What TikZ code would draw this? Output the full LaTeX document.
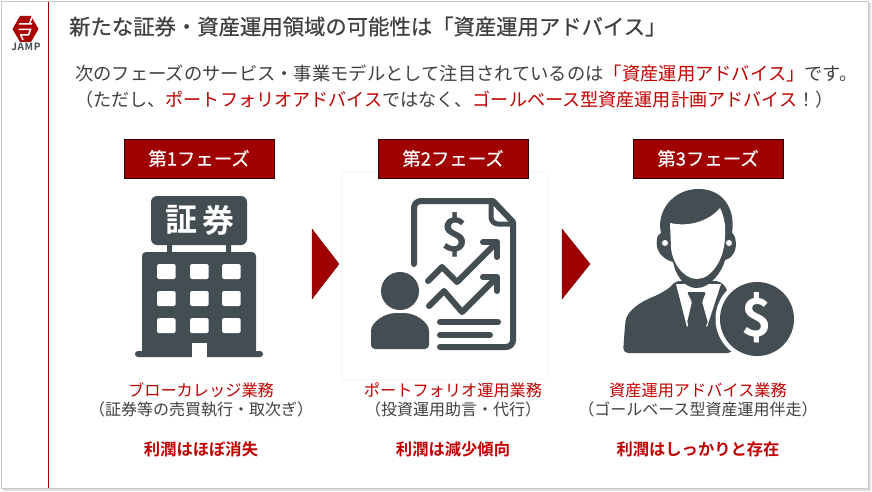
\documentclass[tikz,border=0pt]{standalone}
\usepackage{fontspec}
\setmainfont{Noto Sans CJK JP}
\newfontfamily\jpb{Noto Sans CJK JP Bold}
\newfontfamily\jpm[FakeBold=0.5]{Noto Sans CJK JP}
\newfontfamily\jpq[FakeBold=0.25]{Noto Sans CJK JP}
\definecolor{ink}{HTML}{434D52}
\definecolor{txt}{HTML}{404040}
\definecolor{crim}{HTML}{A00000}
\definecolor{redt}{HTML}{C00000}
\newcommand{\rd}[1]{\textcolor{redt}{#1}}
\newcommand{\fs}[1]{\fontsize{#1}{#1}\selectfont}
\tikzset{
 x=1pt,y=-1pt,
 phase/.style={draw=black!70!crim,fill=crim,text=white,minimum width=150,minimum height=39,inner sep=0,font=\fs{18.4}\jpq},
 arrowtri/.style={fill=crim,draw=crim!70!black,line width=.4},
 line1/.style={text=redt,font=\fs{16.2},inner sep=0},
 line2/.style={text=txt,font=\fs{16},inner sep=0},
 profit/.style={text=redt,font=\fs{16.3}\jpb,inner sep=0},
 titletext/.style={text=txt,font=\fs{21.35}\jpm,inner sep=0,anchor=west},
 bodytext/.style={text=txt,font=\fs{18.3},inner sep=0,anchor=west},
 iconline/.style={draw=ink,line width=6,line cap=round,line join=round},
 iconfill/.style={fill=ink,draw=none},
}
\begin{document}
\begin{tikzpicture}
\useasboundingbox (0,0) rectangle (872,492);
\fill[white] (0,0) rectangle (872,492);
\draw[black!22,line width=1] (1.5,1.5) rectangle (868.5,488.5);
\draw[black!12,line width=2] (870,3) -- (870,490) -- (3,490);
\draw[crim,line width=1] (48,2) -- (48,488);
% logo
\fill[crim!90!red] (12.5,29) -- (20,16) -- (31,16) -- (38.5,29) -- (31,42) -- (20,42) -- cycle;
\draw[white,line width=1.5] (19,24) -- (32,24) (18.5,29.5) -- (30.5,29.5) -- (28.5,35) -- (20,35) (32,17) -- (29.5,24) (21,35.5) -- (23,40);
\node[inner sep=0,text=ink] (jamp) at (26,46.5) {\fontsize{10}{10}\jpb J\kern.6pt A\kern.6pt M\kern.6pt P};
% header
\node[titletext] (title) at (69,26.5) {新たな証券・資産運用領域の可能性は「資産運用アドバイス」};
\node[bodytext] (l1) at (75,73) {次のフェーズのサービス・事業モデルとして注目されているのは\rd{「資産運用アドバイス」}です。};
\node[bodytext,font=\fs{18.1}] (l2) at (75,100) {（ただし、\rd{ポートフォリオアドバイス}ではなく、\rd{ゴールベース型資産運用計画アドバイス}！）};
% arrows
\draw[arrowtri] (312,229) -- (339,264) -- (312,299) -- cycle;
\draw[arrowtri] (562,229) -- (590,264) -- (562,299) -- cycle;
% icon 1
\fill[iconfill,rounded corners=6] (151,196) rectangle (247,245);
\fill[iconfill] (167,244) rectangle (172,254) (226,244) rectangle (231,254);
\fill[iconfill,rounded corners=4] (142,252) rectangle (256,354);
\fill[iconfill,rounded corners=3] (135,351) rectangle (263,357);
\node[text=white,inner sep=0,font=\fs{32}\jpb] (sho) at (181,220) {証};
\node[text=white,inner sep=0,font=\fs{32}\jpb] (ken) at (218,220) {券};
\foreach \xx in {157,190,222} \foreach \yy in {264,291,318}{
  \fill[white,rounded corners=1.5] (\xx,\yy) rectangle ++(18.5,15);}
\fill[white] (192,343) rectangle (207,358);
% icon 2
\fill[white] (341,172) rectangle (547,379);
\draw[black!4,line width=.5] (341,172) rectangle (547,379);
\draw[iconline] (414,264) -- (414,208) arc[start angle=180,end angle=270,radius=7] -- (493,201) -- (513,222) -- (513,340) arc[start angle=0,end angle=90,radius=7] -- (440,347);
\draw[iconline,line width=5] (491,203) -- (491,217) .. controls (491,221) and (494,224) .. (498,224) -- (512,224);
\draw[iconline] (428,281) -- (442,267) -- (457,282) -- (495,244);
\draw[iconline] (483,242) -- (497,242) -- (497,257);
\draw[iconline] (429,306) -- (444,291) -- (462,312) -- (495,279);
\draw[iconline] (483,277) -- (497,277) -- (497,291);
\draw[iconline] (440,322) -- (498,322) (440,335) -- (490,335);
\node[text=ink,inner sep=0,font=\fs{46}\jpb] (dol2) at (455,235) {\$};
\fill[iconfill] (400,291) circle (19);
\fill[iconfill,rounded corners=4] (371,349) -- (371,335) .. controls (371,322) and (385,313) .. (400,313) .. controls (415,313) and (429,322) .. (429,335) -- (429,349) -- cycle;
% phases
\node[phase] (p1) at (199,158.5) {第1フェーズ};
\node[phase] (p2) at (453,158.5) {第2フェーズ};
\node[phase] (p3) at (708,158.5) {第3フェーズ};
% icon 3
\fill[iconfill,rounded corners=5] (623,353) -- (625,325) .. controls (627,312) and (638,304) .. (650,298) .. controls (660,294) and (670,288) .. (675,281) -- (720,281) -- (728,290) -- (733,353) -- cycle;
\fill[white] (676,284) -- (721,284) -- (707,327) -- (697,312) -- (687,327) -- cycle;
\fill[iconfill] (673,262) .. controls (662,259) and (655,250) .. (657,240) .. controls (657,236) and (659,234) .. (661,233) .. controls (656,212) and (672,190) .. (697,189) .. controls (722,188) and (736,208) .. (732,233) .. controls (737,236) and (737,250) .. (733,254) .. controls (731,258) and (728,259) .. (725,260) .. controls (722,272) and (710,288) .. (697,288) .. controls (682,288) and (675,272) .. (673,262) -- cycle;
\fill[white] (670,223) .. controls (688,227) and (708,222) .. (720,208) .. controls (724,216) and (726,226) .. (725,236) .. controls (725,258) and (712,279) .. (697,279) .. controls (683,279) and (672,262) .. (671,248) -- cycle;
\fill[white] (665,243) circle (3) (729,243) circle (3);
\fill[iconfill,rounded corners=1.5] (687,292) -- (706,292) -- (702,302) -- (708,323) -- (697,336) -- (687,323) -- (692,302) -- cycle;
\fill[white] (757,319) circle (41.5);
\fill[iconfill] (757,319) circle (37);
\node[text=white,inner sep=0,font=\fs{52}\jpb] (dol3) at (757,318) {\$};
% captions
\node[line1] (c1a) at (201,390) {ブローカレッジ業務};
\node[line2] (c1b) at (201,409) {（証券等の売買執行・取次ぎ）};
\node[profit] (c1c) at (201,449) {利潤はほぼ消失};
\node[line1] (c2a) at (453,390) {ポートフォリオ運用業務};
\node[line2] (c2b) at (453,409) {（投資運用助言・代行）};
\node[profit] (c2c) at (453,449) {利潤は減少傾向};
\node[line1] (c3a) at (698,390) {資産運用アドバイス業務};
\node[line2] (c3b) at (698,409) {（ゴールベース型資産運用伴走）};
\node[profit] (c3c) at (698,449) {利潤はしっかりと存在};
\end{tikzpicture}
\end{document}
